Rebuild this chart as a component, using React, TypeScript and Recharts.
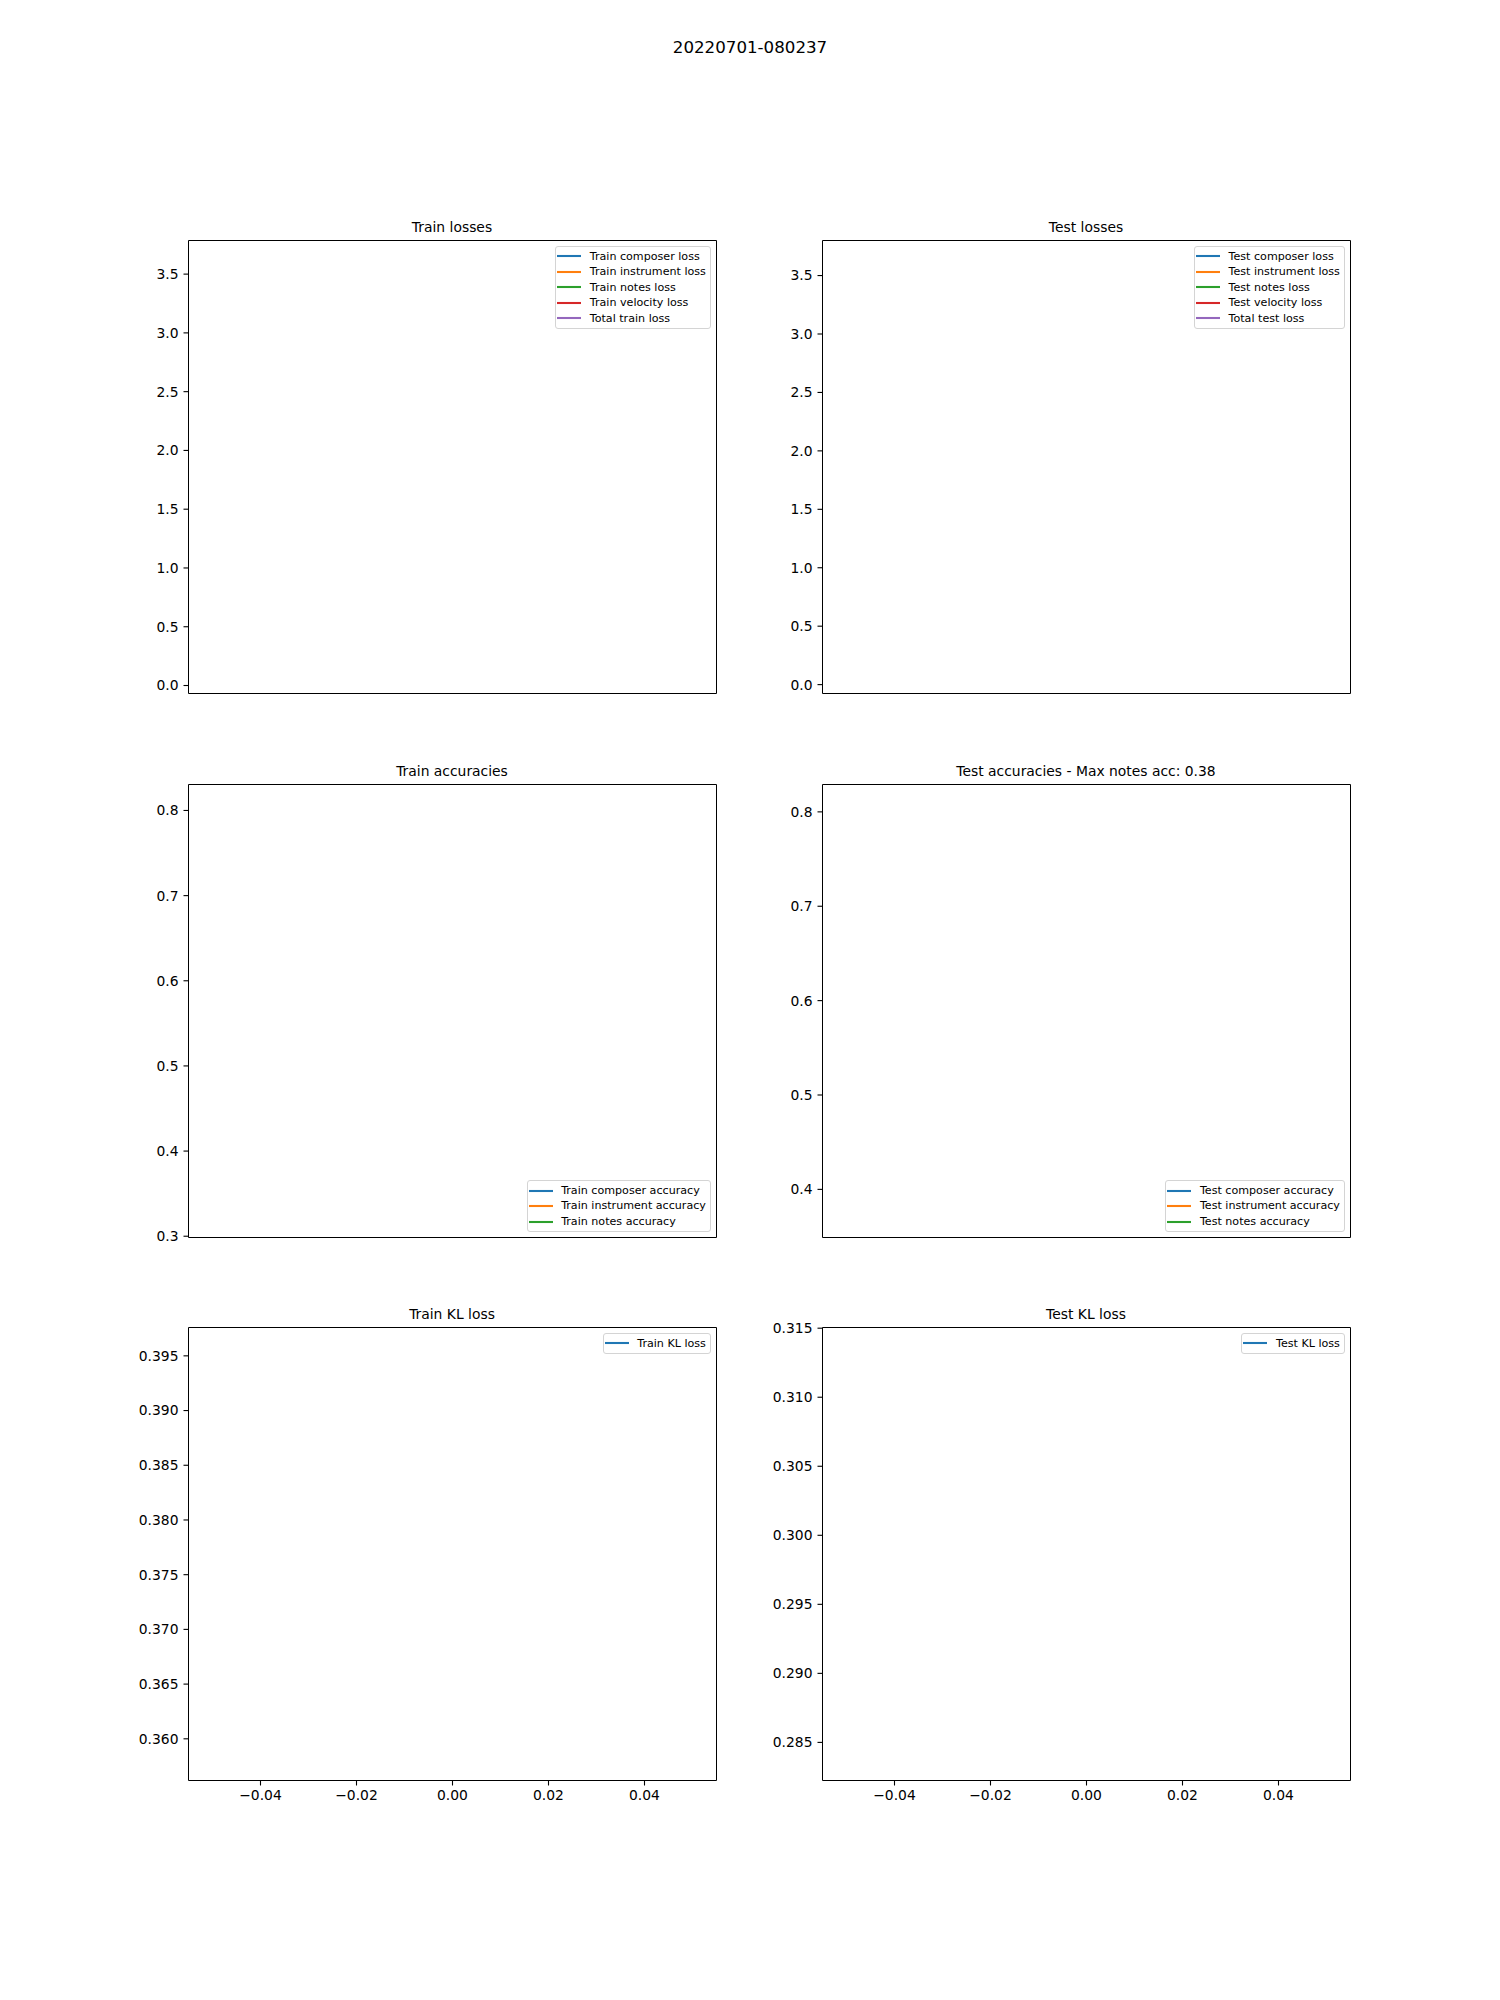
import React from "react";
import { LineChart, Line, XAxis, YAxis, ReferenceArea, Legend } from "recharts";

// ---------- data (one epoch recorded: x = 0) ----------
const epochs = [0];

const trainComposerLoss = [1.05];
const trainInstrumentLoss = [0.106];
const trainNotesLoss = [2.15];
const trainVelocityLoss = [0.31];
const totalTrainLoss = [3.612];

const testComposerLoss = [1.02];
const testInstrumentLoss = [0.097];
const testNotesLoss = [2.2];
const testVelocityLoss = [0.3];
const totalTestLoss = [3.626];

const trainComposerAcc = [0.806];
const trainInstrumentAcc = [0.62];
const trainNotesAcc = [0.323];

const testComposerAcc = [0.807];
const testInstrumentAcc = [0.371];
const testNotesAcc = [0.38];

const trainKL = [0.3769];
const testKL = [0.2986];

// ---------- axes limits / ticks ----------
const xDomain = [-0.055, 0.055];
const xTicks = [-0.04, -0.02, 0, 0.02, 0.04];

const lossTicks = [0, 0.5, 1, 1.5, 2, 2.5, 3, 3.5];
const trainLossDomain = [-0.068, 3.786];
const testLossDomain = [-0.076, 3.8];
const trainAccTicks = [0.3, 0.4, 0.5, 0.6, 0.7, 0.8];
const trainAccDomain = [0.2985, 0.8305];
const testAccTicks = [0.4, 0.5, 0.6, 0.7, 0.8];
const testAccDomain = [0.349, 0.829];
const trainKLTicks = [0.36, 0.365, 0.37, 0.375, 0.38, 0.385, 0.39, 0.395];
const trainKLDomain = [0.35619, 0.39759];
const testKLTicks = [0.285, 0.29, 0.295, 0.3, 0.305, 0.31, 0.315];
const testKLDomain = [0.28224, 0.31505];

const C = ["#1f77b4", "#ff7f0e", "#2ca02c", "#d62728", "#9467bd"];

type Series = { name: string; values: number[] };

function buildRows(series: Series[]) {
  return epochs.map((e, i) => {
    const row: Record<string, number> = { epoch: e };
    series.forEach((s, k) => (row["s" + k] = s.values[i]));
    return row;
  });
}

const FONT = "'DejaVu Sans', sans-serif";
const AX_W = 528;
const AX_H = 453;
const Y_W = 90.5;
const TOP_M = 10.5;
const RIGHT_M = 9.5;
const X_H = 39.5;

const LegendBox = (props: any) => {
  const payload = props.payload || [];
  return (
    <div
      style={{
        background: "#fff",
        border: "1px solid #d4d4d4",
        borderRadius: 3,
        padding: "1.5px 4px 1.5px 1px",
        fontFamily: FONT,
        fontSize: 11.11,
        color: "#000",
      }}
    >
      {payload.map((entry: any, i: number) => (
        <div
          key={i}
          style={{ display: "flex", alignItems: "center", height: 15.5, whiteSpace: "nowrap" }}
        >
          <svg width={24} height={4} style={{ display: "block" }}>
            <line x1={0} x2={24} y1={2} y2={2} stroke={entry.color} strokeWidth={2.08} />
          </svg>
          <span style={{ marginLeft: 8.6, lineHeight: "15.5px" }}>{entry.value}</span>
        </div>
      ))}
    </div>
  );
};

type PanelProps = {
  left: number;
  top: number;
  series: Series[];
  yDomain: number[];
  yTicks: number[];
  yDecimals: number;
  legendLower?: boolean;
  showX: boolean;
};

const fmtX = (v: number) => {
  const s = Math.abs(v).toFixed(2);
  return v < -1e-12 ? "\u2212" + s : s;
};

const hiddenDot = { r: 0, strokeWidth: 0, strokeOpacity: 0, fillOpacity: 0 };

function Panel({ left, top, series, yDomain, yTicks, yDecimals, legendLower, showX }: PanelProps) {
  const data = buildRows(series);
  const legendStyle = legendLower
    ? { right: RIGHT_M + 5.6, bottom: X_H + 5.6 }
    : { right: RIGHT_M + 5.6, top: TOP_M + 5.6 };
  return (
    <div style={{ position: "absolute", left: left - 90, top: top - 10 }}>
      <LineChart
        width={Y_W + AX_W + RIGHT_M}
        height={TOP_M + AX_H + X_H}
        data={data}
        margin={{ top: TOP_M, right: RIGHT_M, left: 0, bottom: 0 }}
      >
        <XAxis
          dataKey="epoch"
          type="number"
          domain={xDomain}
          allowDataOverflow
          ticks={xTicks}
          interval={0}
          height={X_H}
          axisLine={false}
          tickLine={{ stroke: "#000", strokeWidth: 1.1 }}
          tickSize={5}
          tickMargin={5}
          tick={showX ? { fill: "#000", fontSize: 13.89, fontFamily: FONT } : false}
          tickFormatter={fmtX}
        />
        <YAxis
          type="number"
          domain={yDomain}
          allowDataOverflow
          ticks={yTicks}
          interval={0}
          width={Y_W}
          axisLine={false}
          tickLine={{ stroke: "#000", strokeWidth: 1.1 }}
          tickSize={5}
          tickMargin={5}
          tick={{ fill: "#000", fontSize: 13.89, fontFamily: FONT }}
          tickFormatter={(v: number) => v.toFixed(yDecimals)}
        />
        {series.map((s, i) => (
          <Line
            key={"s" + i}
            dataKey={"s" + i}
            name={s.name}
            type="linear"
            stroke={C[i]}
            strokeWidth={2.08}
            dot={hiddenDot}
            activeDot={false}
            isAnimationActive={false}
          />
        ))}
        <ReferenceArea
          x1={xDomain[0]}
          x2={xDomain[1]}
          y1={yDomain[0]}
          y2={yDomain[1]}
          fill="none"
          stroke="#000"
          strokeWidth={1}
          ifOverflow="visible"
        />
        <Legend
          layout="vertical"
          align="center"
          verticalAlign="middle"
          itemSorter="dataKey"
          wrapperStyle={legendStyle}
          content={<LegendBox />}
        />
      </LineChart>
    </div>
  );
}

const COL_X = [188, 822];
const ROW_Y = [240, 784, 1327];

const titles = [
  { text: "Train losses", col: 0, row: 0 },
  { text: "Test losses", col: 1, row: 0 },
  { text: "Train accuracies", col: 0, row: 1 },
  { text: "Test accuracies - Max notes acc: 0.38", col: 1, row: 1 },
  { text: "Train KL loss", col: 0, row: 2 },
  { text: "Test KL loss", col: 1, row: 2 },
];

export default function App() {
  return (
    <div
      style={{
        position: "absolute",
        left: 0,
        top: 0,
        width: 1500,
        height: 2000,
        background: "#fff",
        fontFamily: FONT,
      }}
    >
      <svg width={1500} height={2000} style={{ position: "absolute", left: 0, top: 0 }}>
        <text x={750} y={53} textAnchor="middle" fontSize={16.67} fontFamily={FONT} fill="#000">
          20220701-080237
        </text>
        {titles.map((t, i) => (
          <text
            key={i}
            x={COL_X[t.col] + AX_W / 2}
            y={ROW_Y[t.row] - 8.3}
            textAnchor="middle"
            fontSize={13.89}
            fontFamily={FONT}
            fill="#000"
          >
            {t.text}
          </text>
        ))}
      </svg>

      <Panel
        left={COL_X[0]}
        top={ROW_Y[0]}
        showX={false}
        yDomain={trainLossDomain}
        yTicks={lossTicks}
        yDecimals={1}
        series={[
          { name: "Train composer loss", values: trainComposerLoss },
          { name: "Train instrument loss", values: trainInstrumentLoss },
          { name: "Train notes loss", values: trainNotesLoss },
          { name: "Train velocity loss", values: trainVelocityLoss },
          { name: "Total train loss", values: totalTrainLoss },
        ]}
      />
      <Panel
        left={COL_X[1]}
        top={ROW_Y[0]}
        showX={false}
        yDomain={testLossDomain}
        yTicks={lossTicks}
        yDecimals={1}
        series={[
          { name: "Test composer loss", values: testComposerLoss },
          { name: "Test instrument loss", values: testInstrumentLoss },
          { name: "Test notes loss", values: testNotesLoss },
          { name: "Test velocity loss", values: testVelocityLoss },
          { name: "Total test loss", values: totalTestLoss },
        ]}
      />
      <Panel
        left={COL_X[0]}
        top={ROW_Y[1]}
        showX={false}
        legendLower
        yDomain={trainAccDomain}
        yTicks={trainAccTicks}
        yDecimals={1}
        series={[
          { name: "Train composer accuracy", values: trainComposerAcc },
          { name: "Train instrument accuracy", values: trainInstrumentAcc },
          { name: "Train notes accuracy", values: trainNotesAcc },
        ]}
      />
      <Panel
        left={COL_X[1]}
        top={ROW_Y[1]}
        showX={false}
        legendLower
        yDomain={testAccDomain}
        yTicks={testAccTicks}
        yDecimals={1}
        series={[
          { name: "Test composer accuracy", values: testComposerAcc },
          { name: "Test instrument accuracy", values: testInstrumentAcc },
          { name: "Test notes accuracy", values: testNotesAcc },
        ]}
      />
      <Panel
        left={COL_X[0]}
        top={ROW_Y[2]}
        showX={true}
        yDomain={trainKLDomain}
        yTicks={trainKLTicks}
        yDecimals={3}
        series={[{ name: "Train KL loss", values: trainKL }]}
      />
      <Panel
        left={COL_X[1]}
        top={ROW_Y[2]}
        showX={true}
        yDomain={testKLDomain}
        yTicks={testKLTicks}
        yDecimals={3}
        series={[{ name: "Test KL loss", values: testKL }]}
      />
    </div>
  );
}
